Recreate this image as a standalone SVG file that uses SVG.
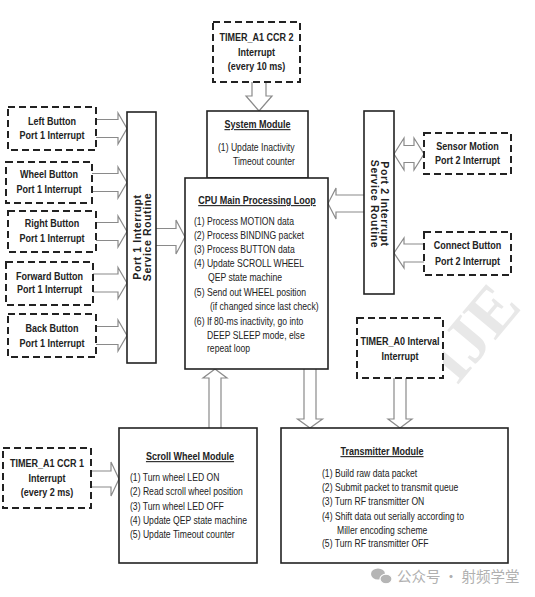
<svg xmlns="http://www.w3.org/2000/svg" width="535" height="597" viewBox="0 0 535 597">
<style>
text{font-family:"Liberation Sans",Arial,sans-serif;fill:#222}
.b{font-weight:bold;font-size:11px;text-anchor:middle}
.t{font-weight:bold;font-size:11px;text-anchor:middle;text-decoration:underline}
.r{font-size:10.5px}
.v{font-weight:bold;font-size:10.5px;letter-spacing:0.6px;text-anchor:middle}
.dash{fill:#fff;stroke:#222;stroke-width:2;stroke-dasharray:7 4}
.box{fill:#fff;stroke:#222;stroke-width:1.6}
.arr{fill:#fff;stroke:#8a8a8a;stroke-width:1.2;stroke-linejoin:miter}
</style>
<rect width="535" height="597" fill="#fff"/>
<g id="watermark">
<text x="0" y="0" transform="translate(457,386) rotate(-50)" style="font-family:'Liberation Serif',serif;font-weight:bold;font-size:66px;fill:#e8e8e8">IJE</text>
</g>
<g id="connectors">
<polyline class="arr" points="96,119.5 118,119.5 118,113 127,128.5 118,144 118,137.5 96,137.5"/>
<polyline class="arr" points="92,173.5 118,173.5 118,167 127,182.5 118,198 118,191.5 92,191.5"/>
<polyline class="arr" points="96,222.5 118,222.5 118,216 127,231.5 118,247 118,240.5 96,240.5"/>
<polyline class="arr" points="93,274 118,274 118,267.5 127,283 118,298.5 118,292 93,292"/>
<polyline class="arr" points="96,326.5 118,326.5 118,320 127,335.5 118,351 118,344.5 96,344.5"/>
<polyline class="arr" points="156,228.5 176,228.5 176,220 185,237 176,254 176,245.5 156,245.5"/>
<polyline class="arr" points="364,195 336,195 336,188 328,203.5 336,219 336,212 364,212"/>
<polygon class="arr" points="394,154 404,138 404,145.5 414,145.5 414,138 424,154 414,170 414,162.5 404,162.5 404,170"/>
<polyline class="arr" points="424,244 404,244 404,238 394,253 404,268 404,262 424,262"/>
<polyline class="arr" points="252,82 252,96 246,96 259,111 272,96 266,96 266,82"/>
<polyline class="arr" points="304,369 304,419 297.5,419 310,428 322.5,419 316,419 316,369"/>
<polyline class="arr" points="394,378 394,419 388,419 400,428 412,419 406,419 406,378"/>
<polyline class="arr" points="209,428 209,378 203,378 215,369 227,378 221,378 221,428"/>
<polyline class="arr" points="91,471 111,471 111,462 119,479 111,496 111,487 91,487"/>
</g>
<g id="timer_a1_ccr2">
<rect class="dash" x="213" y="22" width="87" height="60"/>
<g transform="scale(0.82 1)">
<text class="b" x="312.8" y="41">TIMER_A1 CCR 2</text>
<text class="b" x="312.8" y="56">Interrupt</text>
<text class="b" x="312.8" y="70">(every 10 ms)</text>
</g>
</g>
<g id="system_module">
<rect class="box" x="207" y="111" width="101" height="67"/>
<g transform="scale(0.82 1)">
<text class="t" x="314.02" y="128">System Module</text>
<text class="r" x="265.85" y="151">(1) Update Inactivity</text>
<text class="r" x="284.15" y="165">Timeout counter</text>
</g>
</g>
<g id="cpu_loop">
<rect class="box" x="185" y="178" width="143" height="191"/>
<g transform="scale(0.82 1)">
<text class="t" x="313.41" y="204">CPU Main Processing Loop</text>
<text class="r" x="236.59" y="225">(1) Process MOTION data</text>
<text class="r" x="236.59" y="239">(2) Process BINDING packet</text>
<text class="r" x="236.59" y="253">(3) Process BUTTON data</text>
<text class="r" x="236.59" y="267">(4) Update SCROLL WHEEL</text>
<text class="r" x="253.66" y="281">QEP state machine</text>
<text class="r" x="236.59" y="296">(5) Send out WHEEL position</text>
<text class="r" x="256.1" y="310">(if changed since last check)</text>
<text class="r" x="236.59" y="325">(6) If 80-ms inactivity, go into</text>
<text class="r" x="252.44" y="339">DEEP SLEEP mode, else</text>
<text class="r" x="252.44" y="352">repeat loop</text>
</g>
</g>
<g id="port1_isr">
<rect class="box" x="127" y="112" width="29" height="251"/>
<text class="v" transform="translate(141,237) rotate(-90)">Port 1 Interrupt</text>
<text class="v" transform="translate(151,237) rotate(-90)">Service Routine</text>
</g>
<g id="port2_isr">
<rect class="box" x="364" y="111" width="30" height="183"/>
<text class="v" transform="translate(381,204) rotate(90)">Port 2 Interrupt</text>
<text class="v" transform="translate(371,204) rotate(90)">Service Routine</text>
</g>
<g id="left_button">
<rect class="dash" x="8" y="107" width="88" height="43"/>
<g transform="scale(0.82 1)">
<text class="b" x="63.41" y="125">Left Button</text>
<text class="b" x="63.41" y="139">Port 1 Interrupt</text>
</g>
</g>
<g id="wheel_button">
<rect class="dash" x="6" y="162" width="86" height="41"/>
<g transform="scale(0.82 1)">
<text class="b" x="59.76" y="178">Wheel Button</text>
<text class="b" x="59.76" y="193">Port 1 Interrupt</text>
</g>
</g>
<g id="right_button">
<rect class="dash" x="8" y="211" width="88" height="41"/>
<g transform="scale(0.82 1)">
<text class="b" x="63.41" y="227">Right Button</text>
<text class="b" x="63.41" y="242">Port 1 Interrupt</text>
</g>
</g>
<g id="forward_button">
<rect class="dash" x="6" y="262" width="87" height="43"/>
<g transform="scale(0.82 1)">
<text class="b" x="60.37" y="280">Forward Button</text>
<text class="b" x="60.37" y="293">Port 1 Interrupt</text>
</g>
</g>
<g id="back_button">
<rect class="dash" x="8" y="314" width="88" height="43"/>
<g transform="scale(0.82 1)">
<text class="b" x="63.41" y="332">Back Button</text>
<text class="b" x="63.41" y="347">Port 1 Interrupt</text>
</g>
</g>
<g id="sensor_motion">
<rect class="dash" x="424" y="133" width="87" height="41"/>
<g transform="scale(0.82 1)">
<text class="b" x="570.12" y="150">Sensor Motion</text>
<text class="b" x="570.12" y="164">Port 2 Interrupt</text>
</g>
</g>
<g id="connect_button">
<rect class="dash" x="424" y="232" width="87" height="43"/>
<g transform="scale(0.82 1)">
<text class="b" x="570.12" y="249">Connect Button</text>
<text class="b" x="570.12" y="265">Port 2 Interrupt</text>
</g>
</g>
<g id="timer_a0">
<rect class="dash" x="357" y="318" width="86" height="60"/>
<g transform="scale(0.82 1)">
<text class="b" x="487.8" y="345">TIMER_A0 Interval</text>
<text class="b" x="487.8" y="360">Interrupt</text>
</g>
</g>
<g id="timer_a1_ccr1">
<rect class="dash" x="3" y="448" width="88" height="60"/>
<g transform="scale(0.82 1)">
<text class="b" x="57.32" y="467">TIMER_A1 CCR 1</text>
<text class="b" x="57.32" y="482">Interrupt</text>
<text class="b" x="57.32" y="496">(every 2 ms)</text>
</g>
</g>
<g id="scroll_wheel_module">
<rect class="box" x="119" y="428" width="138" height="135"/>
<g transform="scale(0.82 1)">
<text class="t" x="231.71" y="460">Scroll Wheel Module</text>
<text class="r" x="158.54" y="481">(1) Turn wheel LED ON</text>
<text class="r" x="158.54" y="495">(2) Read scroll wheel position</text>
<text class="r" x="158.54" y="510">(3) Turn wheel LED OFF</text>
<text class="r" x="158.54" y="524">(4) Update QEP state machine</text>
<text class="r" x="158.54" y="538">(5) Update Timeout counter</text>
</g>
</g>
<g id="transmitter_module">
<rect class="box" x="281" y="428" width="227" height="135"/>
<g transform="scale(0.82 1)">
<text class="t" x="465.85" y="455">Transmitter Module</text>
<text class="r" x="392.68" y="477">(1) Build raw data packet</text>
<text class="r" x="392.68" y="491">(2) Submit packet to transmit queue</text>
<text class="r" x="392.68" y="505">(3) Turn RF transmitter ON</text>
<text class="r" x="392.68" y="520">(4) Shift data out serially according to</text>
<text class="r" x="410.98" y="534">Miller encoding scheme</text>
<text class="r" x="392.68" y="547">(5) Turn RF transmitter OFF</text>
</g>
</g>
<g id="wechat_mark" fill="#b5b5b5">
<ellipse cx="378" cy="574" rx="7" ry="5.5"/>
<ellipse cx="386" cy="579" rx="6" ry="4.8" stroke="#fff" stroke-width="1.2"/>
<text x="397" y="582" style="font-family:'Noto Sans CJK SC',sans-serif;font-size:14.5px;fill:#b0b0b0">公众号 · 射频学堂</text>
</g>
</svg>
